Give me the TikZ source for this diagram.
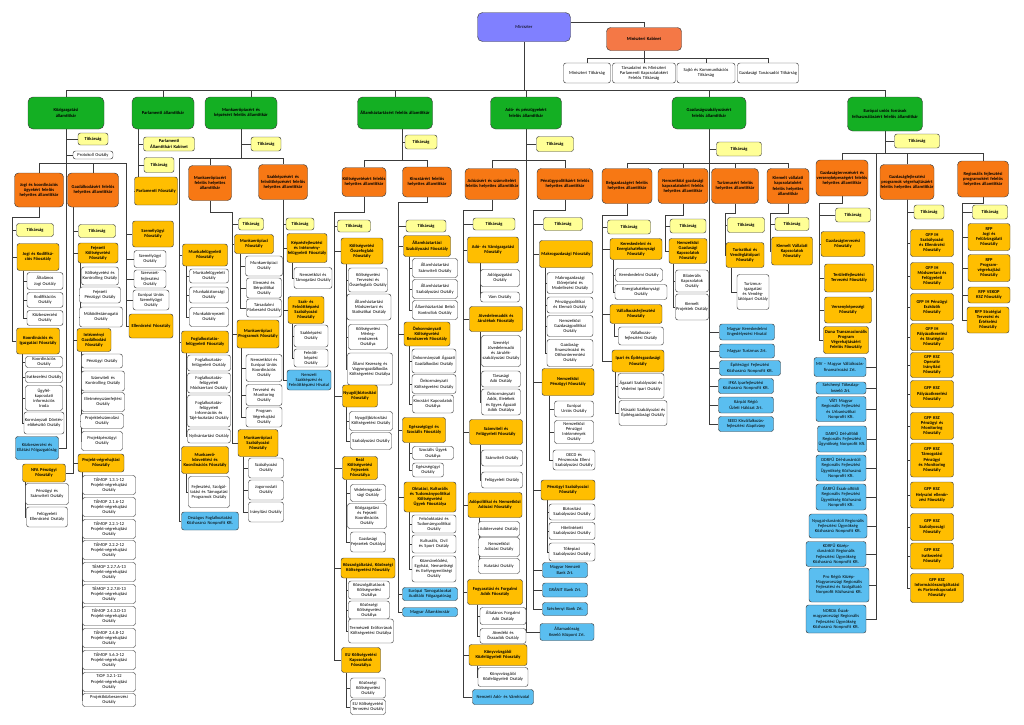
\documentclass[tikz,border=0pt]{standalone}
\usepackage{fontspec}
\setmainfont{Carlito}
\usetikzlibrary{backgrounds}
\definecolor{lnc}{RGB}{60,60,60}
\definecolor{grc}{RGB}{20,175,35}
\definecolor{hac}{RGB}{247,120,20}
\definecolor{foc}{RGB}{255,190,0}
\definecolor{tic}{RGB}{255,255,150}
\definecolor{blc}{RGB}{90,190,240}
\definecolor{puc}{RGB}{128,128,255}
\definecolor{kbc}{RGB}{244,120,70}
\newcommand{\orgfs}{\fontsize{4.5}{5.15}\selectfont\hyphenpenalty=10000 }
% \orgnode{style}{name}{x}{y}{width}{height}{text}
\newcommand{\orgnode}[7]{\node[#1, text width=#5pt, minimum height=#6pt] (#2) at (#3,#4) {#7};}
\tikzset{
  orgbox/.style={draw=lnc, line width=0.45pt, rounded corners=2.5pt, align=center, inner xsep=0.5pt, inner ysep=0.2pt, font=\orgfs},
  wbox/.style={orgbox, fill=white},
  fobox/.style={orgbox, fill=foc, font=\orgfs\bfseries},
  habox/.style={orgbox, fill=hac, font=\orgfs\bfseries, rounded corners=4pt},
  grbox/.style={orgbox, fill=grc, font=\orgfs\bfseries, rounded corners=5pt},
  tibox/.style={orgbox, fill=tic, font=\orgfs\bfseries},
  blbox/.style={orgbox, fill=blc},
  pubox/.style={orgbox, fill=puc, rounded corners=5pt},
  kbbox/.style={orgbox, fill=kbc, font=\orgfs\bfseries, rounded corners=4pt},
  conn/.style={draw=lnc, line width=0.6pt},
}
\begin{document}
\begin{tikzpicture}[x=1pt, y=-1pt]
\useasboundingbox (0,0) rectangle (1024,724);
% felso szint
\orgnode{pubox}{min}{524}{27}{92}{29}{Miniszter}
\orgnode{kbbox}{kab}{644}{39}{74}{23}{Miniszteri Kabinet}
\orgnode{wbox}{mt}{587}{73}{46}{20}{Miniszteri Titkárság}
\orgnode{wbox}{tt}{644}{73}{62}{20}{Társadalmi és Miniszteri Parlamenti Kapcsolatokért Felelős Titkárság}
\orgnode{wbox}{st}{706}{73}{57}{20}{Sajtó és Kommunikációs Titkárság}
\orgnode{wbox}{gt}{768}{73}{60}{20}{Gazdasági Tanácsadói Titkárság}
\coordinate (kbb) at (644,58);
\coordinate (tb) at (0,90);
% allamtitkarok
\orgnode{grbox}{g1}{66}{113}{75}{32}{Közigazgatási\\államtitkár}
\orgnode{grbox}{g2}{163}{113}{61}{32}{Parlamenti államtitkár}
\orgnode{grbox}{g3}{241}{113}{71}{32}{Munkaerőpiacért és képzésért felelős államtitkár}
\orgnode{grbox}{g4}{395}{113}{74}{32}{Államháztartásért felelős államtitkár}
\orgnode{grbox}{g5}{526}{113}{70}{32}{Adó- és pénzügyekért felelős államtitkár}
\orgnode{grbox}{g6}{709}{113}{73}{32}{Gazdaságszabályozásért felelős államtitkár}
\orgnode{grbox}{g7}{885}{114}{74}{34}{Európai uniós források felhasználásáért felelős államtitkár}
% kozigazgatasi
\orgnode{tibox}{t1}{93}{139}{29}{12}{Titkárság}
\orgnode{wbox}{po}{93}{155}{39}{8}{Protokoll Osztály}
\orgnode{habox}{jh}{39}{190}{48}{34}{Jogi és koordinációs ügyekért felelős helyettes államtitkár}
\orgnode{habox}{gh}{93}{190}{50}{34}{Gazdálkodásért felelős helyettes államtitkár}
\orgnode{tibox}{t2}{35}{230}{36}{13}{Titkárság}
\orgnode{fobox}{jkf}{38}{257}{41}{27}{Jogi és Kodifiká-\\ciós Főosztály}
\orgnode{wbox}{ajo}{45}{281}{35}{17}{Általános Jogi Osztály}
\orgnode{wbox}{kod}{45}{300}{35}{15}{Kodifikációs Osztály}
\orgnode{wbox}{kbo}{45}{318}{35}{15}{Közbeszerzési Osztály}
\orgnode{fobox}{kif}{38}{341}{42}{26}{Koordinációs és Igazgatási Főosztály}
\orgnode{wbox}{koo}{44}{362}{36}{11}{Koordinációs Osztály}
\orgnode{wbox}{iro}{44}{377}{36}{11}{Iratkezelési Osztály}
\orgnode{wbox}{ufk}{44}{398}{36}{25}{Ügyfél-\\kapcsolati\\információs\\Iroda}
\orgnode{wbox}{kdo}{44}{423}{39}{22}{Kormányzati Döntés-előkészítő Osztály}
\orgnode{blbox}{kef}{37}{448}{42}{23}{Közbeszerzési és Ellátási Főigazgatóság}
\orgnode{fobox}{nfa}{44}{473}{42}{18}{NFA Pénzügyi Főosztály}
\orgnode{wbox}{nfa1}{47}{494}{42}{21}{Pénzügyi és Számviteli Osztály}
\orgnode{wbox}{nfa2}{47}{517}{40}{20}{Felügyeleti Ellenőrzési Osztály}
\orgnode{tibox}{t3}{97}{231}{36}{13}{Titkárság}
\orgnode{fobox}{fkf}{98}{253}{39}{20}{Fejezeti Költségvetési Főosztály}
\orgnode{wbox}{fk1}{100}{276}{36}{18}{Költségvetési és Kontrolling Osztály}
\orgnode{wbox}{fk2}{100}{295}{40}{16}{Fejezeti Pénzügyi Osztály}
\orgnode{wbox}{fk3}{101}{317}{42}{20}{Működéstámogató Osztály}
\orgnode{fobox}{igf}{94}{340}{33}{23}{Intézményi Gazdálkodási Főosztály}
\orgnode{wbox}{ig1}{102}{361}{40}{14}{Pénzügyi Osztály}
\orgnode{wbox}{ig2}{103}{381}{42}{20}{Számviteli és Kontrolling Osztály}
\orgnode{wbox}{ig3}{103}{402}{42}{19}{Illetményszámfejtési Osztály}
\orgnode{wbox}{ig4}{102}{421}{42}{15}{Projektelszámolási Osztály}
\orgnode{wbox}{ig5}{102}{441}{40}{19}{Projektpénzügyi Osztály}
\orgnode{fobox}{pvf}{101}{463}{45}{18}{Projekt-végrehajtási Főosztály}
\foreach \nm/\yy/\pr in {pv1/485/TÁMOP 1.3.1-12, pv2/507/TÁMOP 2.1.6-12, pv3/529/TÁMOP 2.2.1-12, pv4/550/TÁMOP 2.2.2-12, pv5/572/TÁMOP 2.2.7.A-13, pv6/594/TÁMOP 2.2.7.B-13, pv7/616/TÁMOP 2.4.3.D-13, pv8/638/TÁMOP 2.4.8-12, pv9/660/TÁMOP 5.6.3-12, pv10/682/TIOP 3.2.1-12}
  {\orgnode{wbox}{\nm}{109}{\yy}{52}{19}{\pr\\Projekt-végrehajtási\\Osztály}}
\orgnode{wbox}{pv11}{109}{700}{52}{13}{Projektközbeszerzési Osztály}
\orgnode{fobox}{szf}{153}{234}{40}{26}{Személyügyi Főosztály}
\orgnode{wbox}{sz1}{150}{259}{31}{17}{Személyügyi Osztály}
\orgnode{wbox}{sz2}{150}{279}{31}{18}{Szervezet-\\fejlesztési\\Osztály}
\orgnode{wbox}{sz3}{151}{300}{35}{20}{Európai Uniós Személyügyi Osztály}
\orgnode{fobox}{ell}{151}{326}{43}{24}{Ellenőrzési Főosztály}
% parlamenti
\orgnode{tibox}{pk}{169}{144}{50}{14}{Parlamenti Államtitkári Kabinet}
\orgnode{tibox}{t4}{159}{165}{29}{15}{Titkárság}
\orgnode{fobox}{pf}{156}{191}{42}{28}{Parlamenti Főosztály}
% munkaeropiac
\orgnode{tibox}{t5}{266}{144}{29}{14}{Titkárság}
\orgnode{habox}{mh}{210}{183}{42}{35}{Munkaerőpiacért felelős helyettes államtitkár}
\orgnode{habox}{sh}{283}{182}{48}{35}{Szakképzésért és felnőttképzésért felelős helyettes államtitkár}
\orgnode{fobox}{mff}{205}{255}{44}{22}{Munkafelügyeleti Főosztály}
\orgnode{wbox}{mf1}{209}{276}{38}{14}{Munkafelügyeleti Osztály}
\orgnode{wbox}{mf2}{209}{295}{38}{16}{Munkabiztonsági Osztály}
\orgnode{wbox}{mf3}{209}{317}{38}{19}{Munkakörnyezeti Osztály}
\orgnode{fobox}{fff}{205}{342}{46}{22}{Foglalkoztatás-felügyeleti Főosztály}
\orgnode{wbox}{ff1}{209}{363}{42}{16}{Foglalkoztatás-felügyeleti Osztály}
\orgnode{wbox}{ff2}{209}{383}{42}{20}{Foglalkoztatás-felügyeleti Módszertani Osztály}
\orgnode{wbox}{ff3}{209}{411}{42}{32}{Foglalkoztatás-felügyeleti Információs és Tájé-koztatási Osztály}
\orgnode{wbox}{ff4}{209}{436}{42}{14}{Nyilvántartási Osztály}
\orgnode{fobox}{mkf}{205}{460}{46}{27}{Munkaerő-közvetítési és Koordinációs Főosztály}
\orgnode{wbox}{mk1}{209}{492}{40}{31}{Fejlesztési, Szolgál-tatási és Támogatási Programok Osztály}
\orgnode{blbox}{ofk}{210}{521}{56}{18}{Országos Foglalkoztatási Közhasznú Nonprofit Kft.}
\orgnode{tibox}{t6}{251}{224}{24}{12}{Titkárság}
\orgnode{fobox}{mpf}{254}{244}{38}{19}{Munkaerőpiaci Főosztály}
\orgnode{wbox}{mp1}{264}{266}{36}{20}{Munkaerőpiaci Osztály}
\orgnode{wbox}{mp2}{264}{288}{34}{20}{Elemzési és Bérpolitikai Osztály}
\orgnode{wbox}{mp3}{264}{308}{34}{18}{Társadalmi Párbeszéd Osztály}
\orgnode{fobox}{mpp}{258}{334}{41}{28}{Munkaerőpiaci Programok Főosztály}
\orgnode{wbox}{pp1}{264}{368}{35}{27}{Nemzetközi és Európai Uniós Koordinációs Osztály}
\orgnode{wbox}{pp2}{264}{395}{35}{21}{Tervezési és Monitoring Osztály}
\orgnode{wbox}{pp3}{264}{417}{35}{20}{Program Végrehajtási Osztály}
\orgnode{fobox}{msz}{258}{443}{39}{27}{Munkaerőpiaci Szabályozási Főosztály}
\orgnode{wbox}{ms1}{266}{468}{34}{20}{Szabályozási Osztály}
\orgnode{wbox}{ms2}{266}{490}{34}{20}{Jogorvoslati Osztály}
\orgnode{wbox}{ms3}{266}{512}{34}{20}{Irányítási Osztály}
\orgnode{tibox}{t7}{300}{224}{27}{12}{Titkárság}
\orgnode{fobox}{kif2}{307}{248}{39}{29}{Képzésfejlesztési és Intézmény-felügyeleti Főosztály}
\orgnode{wbox}{ki1}{313}{278}{37}{21}{Nemzetközi és Támogatási Osztály}
\orgnode{fobox}{szf2}{306}{310}{35}{27}{Szak- és Felnőttképzési Szabályozási Főosztály}
\orgnode{wbox}{sk1}{311}{336}{33}{22}{Szakképzési Osztály}
\orgnode{wbox}{sk2}{311}{358}{33}{18}{Felnőtt-\\képzési\\Osztály}
\orgnode{blbox}{nszh}{309}{380}{43}{20}{Nemzeti Szakképzési és Felnőttképzési Hivatal}
% allamhaztartas
\orgnode{tibox}{t8}{421}{142}{31}{14}{Titkárság}
\orgnode{habox}{kh}{364}{182}{43}{29}{Költségvetésért felelős helyettes államtitkár}
\orgnode{habox}{kih}{427}{182}{48}{30}{Kincstárért felelős helyettes államtitkár}
\orgnode{tibox}{t9}{354}{226}{32}{12}{Titkárság}
\orgnode{fobox}{kof}{362}{251}{41}{26}{Költségvetési Összefoglaló Főosztály}
\orgnode{wbox}{ko1}{368}{280}{38}{24}{Költségvetési Tervezési és Összefoglaló Osztály}
\orgnode{wbox}{ko2}{369}{307}{43}{26}{Államháztartási Módszertani és Statisztikai Osztály}
\orgnode{wbox}{ko3}{368}{337}{38}{25}{Költségvetési Mérleg-\\rendszerek\\Osztálya}
\orgnode{wbox}{ko4}{370}{369}{44}{32}{Állami Kezesség és Vagyongazdálkodás Költségvetési Osztálya}
\orgnode{fobox}{nyf}{360}{396}{34}{22}{Nyugdíjbiztosítási Főosztály}
\orgnode{wbox}{ny1}{371}{421}{42}{19}{Nyugdíjbiztosítási Költségvetési Osztály}
\orgnode{wbox}{ny2}{371}{441}{40}{17}{Szabályozási Osztály}
\orgnode{fobox}{rkf}{360}{468}{34}{23}{Reál Költségvetési Fejezetek Főosztálya}
\orgnode{wbox}{rk1}{368}{493}{34}{17}{Védelemgazda-\\sági Osztály}
\orgnode{wbox}{rk2}{367}{516}{38}{25}{Közigazgatási és Fejezeti Koordinációs Osztály}
\orgnode{wbox}{rk3}{368}{542}{34}{20}{Gazdasági Fejezetek Osztálya}
\orgnode{fobox}{ksz}{368}{568}{53}{20}{Közszolgáltatási, Közösségi Költségvetési Főosztály}
\orgnode{wbox}{ks1}{369}{590}{40}{18}{Közszolgáltatások Költségvetési Osztálya}
\orgnode{wbox}{ks2}{369}{610}{40}{18}{Közösségi Költségvetési Osztálya}
\orgnode{wbox}{ks3}{371}{631}{44}{24}{Természeti Erőforrások Költségvetési Osztálya}
\orgnode{fobox}{euf}{361}{660}{38}{25}{EU Költségvetési Kapcsolatok Főosztálya}
\orgnode{wbox}{eu1}{368}{688}{34}{20}{Közösségi Költségvetési Osztály}
\orgnode{wbox}{eu2}{368}{707}{34}{15}{EU Költségvetési Tervezési Osztály}
\orgnode{tibox}{t10}{426}{226}{39}{12}{Titkárság}
\orgnode{fobox}{ahs}{427}{246}{46}{21}{Államháztartási Szabályozási Főosztály}
\orgnode{wbox}{ah1}{435}{268}{44}{19}{Államháztartási Számviteli Osztály}
\orgnode{wbox}{ah2}{435}{289}{44}{19}{Államháztartási Szabályozási Osztály}
\orgnode{wbox}{ah3}{435}{310}{44}{19}{Államháztartási Belső Kontrollok Osztály}
\orgnode{fobox}{onk}{427}{334}{45}{24}{Önkormányzati Költségvetési Rendszerek Főosztály}
\orgnode{wbox}{on1}{434}{361}{43}{24}{Önkormányzati Ágazati Gazdálkodási Osztály}
\orgnode{wbox}{on2}{434}{384}{43}{19}{Önkormányzati Költségvetési Osztály}
\orgnode{wbox}{on3}{433}{404}{40}{18}{Kincstári Kapcsolatok Osztálya}
\orgnode{fobox}{esz}{424}{430}{42}{25}{Egészségügyi és Szociális Főosztály}
\orgnode{wbox}{es1}{433}{453}{40}{13}{Szociális Ügyek Osztálya}
\orgnode{wbox}{es2}{428}{470}{30}{14}{Egészségügyi Osztály}
\orgnode{fobox}{okt}{430}{497}{51}{30}{Oktatási, Kulturális és Tudománypolitikai Költségvetési Ügyek Főosztálya}
\orgnode{wbox}{ok1}{434}{524}{43}{18}{Felsőoktatási és Tudománypolitikai Osztály}
\orgnode{wbox}{ok2}{434}{544}{43}{18}{Kulturális, Civil és Sport Osztály}
\orgnode{wbox}{ok3}{434}{569}{43}{26}{Közművelődési, Egyházi, Nemzetiségi és Esélyegyenlőségi Osztály}
\orgnode{blbox}{eta}{430}{594}{54}{13}{Európai Támogatásokat Auditáló Főigazgatóság}
\orgnode{blbox}{mak}{430}{612}{54}{9}{Magyar Államkincstár}
% ado es penzugyek
\orgnode{tibox}{t11}{555}{144}{36}{15}{Titkárság}
\orgnode{habox}{ah}{492}{184}{53}{31}{Adózásért és számvitelért felelős helyettes államtitkár}
\orgnode{habox}{pp}{565}{184}{55}{31}{Pénzügypolitikáért felelős helyettes államtitkár}
\orgnode{tibox}{t12}{494}{224}{41}{12}{Titkárság}
\orgnode{fobox}{avf}{493}{250}{50}{26}{Adó- és Vámigazgatási Főosztály}
\orgnode{wbox}{av1}{500}{278}{38}{17}{Adóigazgatási Osztály}
\orgnode{wbox}{av2}{500}{297}{38}{10}{Vám Osztály}
\orgnode{fobox}{jjf}{496}{319}{52}{25}{Jövedelemadók és Járulékok Főosztály}
\orgnode{wbox}{jj1}{501}{351}{38}{31}{Személyi Jövedelemadó és Járulék-\\szabályozási Osztály}
\orgnode{wbox}{jj2}{501}{379}{38}{16}{Társasági Adó Osztály}
\orgnode{wbox}{jj3}{501}{402}{38}{26}{Önkormányzati Adók, Illetékek és Egyes Ágazati Adók Osztálya}
\orgnode{fobox}{szff}{496}{432}{52}{25}{Számviteli és Felügyeleti Főosztály}
\orgnode{wbox}{sf1}{502}{458}{40}{16}{Számviteli Osztály}
\orgnode{wbox}{sf2}{502}{480}{40}{16}{Felügyeleti Osztály}
\orgnode{fobox}{apf}{495}{505}{53}{25}{Adópolitikai és Nemzetközi Adózási Főosztály}
\orgnode{wbox}{ap1}{499}{529}{40}{15}{Adótervezési Osztály}
\orgnode{wbox}{ap2}{499}{547}{40}{19}{Nemzetközi Adózási Osztály}
\orgnode{wbox}{ap3}{499}{566}{40}{15}{Kutatási Osztály}
\orgnode{fobox}{ffa}{495}{592}{54}{25}{Fogyasztási és Forgalmi Adók Főosztály}
\orgnode{wbox}{fa1}{503}{616}{45}{17}{Általános Forgalmi Adó Osztály}
\orgnode{wbox}{fa2}{503}{636}{45}{15}{Jövedéki és Összadók Osztály}
\orgnode{fobox}{kkf}{498}{655}{57}{21}{Könyvvizsgálói Közfelügyeleti Főosztály}
\orgnode{wbox}{kk1}{503}{677}{49}{19}{Könyvvizsgálói Közfelügyeleti Osztály}
\orgnode{blbox}{nav}{503}{697}{60}{15}{Nemzeti Adó- és Vámhivatal}
\orgnode{tibox}{t13}{563}{224}{38}{13}{Titkárság}
\orgnode{fobox}{mgf}{566}{254}{52}{27}{Makrogazdasági Főosztály}
\orgnode{wbox}{mg1}{570}{283}{45}{21}{Makrogazdasági Előrejelzési és Modellezési Osztály}
\orgnode{wbox}{mg2}{570}{305}{45}{16}{Pénzügypolitikai és Elemző Osztály}
\orgnode{wbox}{mg3}{570}{326}{45}{21}{Nemzetközi Gazdaságpolitikai Osztály}
\orgnode{wbox}{mg4}{570}{353}{45}{27}{Gazdaság-\\finanszírozási és Otthonteremtési Osztály}
\orgnode{fobox}{npf}{568}{382}{51}{27}{Nemzetközi Pénzügyi Főosztály}
\orgnode{wbox}{np1}{574}{409}{38}{16}{Európai Uniós Osztály}
\orgnode{wbox}{np2}{574}{432}{38}{23}{Nemzetközi Pénzügyi Intézmények Osztály}
\orgnode{wbox}{np3}{574}{460}{41}{20}{OECD és Pénzmosás Elleni Szabályozási Osztály}
\orgnode{fobox}{psz}{568}{490}{53}{20}{Pénzügyi Szabályozási Főosztály}
\orgnode{wbox}{ps1}{572}{512}{45}{16}{Biztosítási Szabályozási Osztály}
\orgnode{wbox}{ps2}{572}{531}{45}{17}{Hitelintézeti Szabályozási Osztály}
\orgnode{wbox}{ps3}{572}{552}{45}{18}{Tőkepiaci Szabályozási Osztály}
\orgnode{blbox}{mnb}{565}{570}{44}{15}{Magyar Nemzeti Bank Zrt.}
\orgnode{blbox}{gra}{565}{590}{44}{14}{GRÁNIT Bank Zrt.}
\orgnode{blbox}{szb}{565}{609}{44}{13}{Széchenyi Bank Zrt.}
\orgnode{blbox}{akk}{567}{632}{53}{17}{Államadósság Kezelő Központ Zrt.}
% gazdasagszabalyozas
\orgnode{tibox}{t14}{739}{149}{44}{14}{Titkárság}
\orgnode{habox}{bh}{627}{186}{49}{35}{Belgazdaságért felelős helyettes államtitkár}
\orgnode{habox}{nh}{683}{186}{49}{35}{Nemzetközi gazdasági kapcsolatokért felelős helyettes államtitkár}
\orgnode{habox}{th}{735}{186}{46}{35}{Turizmusért felelős helyettes államtitkár}
\orgnode{habox}{kvh}{788}{186}{41}{35}{Kiemelt vállalati kapcsolatokért felelős helyettes államtitkár}
\orgnode{tibox}{t15}{629}{227}{42}{14}{Titkárság}
\orgnode{fobox}{kef2}{636}{249}{51}{21}{Kereskedelmi és Energiahatékonysági Főosztály}
\orgnode{wbox}{ke1}{639}{275}{46}{13}{Kereskedelmi Osztály}
\orgnode{wbox}{ke2}{641}{292}{51}{15}{Energiahatékonysági Osztály}
\orgnode{fobox}{vff}{636}{314}{51}{19}{Vállalkozásfejlesztési Főosztály}
\orgnode{wbox}{vf1}{641}{336}{44}{18}{Vállalkozás-\\fejlesztési Osztály}
\orgnode{fobox}{ipf}{638}{361}{51}{22}{Ipari és Építésgazdasági Főosztály}
\orgnode{wbox}{ip1}{641}{386}{45}{25}{Ágazati Szabályozási és Védelmi Ipari Osztály}
\orgnode{wbox}{ip2}{643}{413}{47}{25}{Műszaki Szabályozási és Építésgazdasági Osztály}
\orgnode{tibox}{t16}{688}{226}{35}{14}{Titkárság}
\orgnode{fobox}{ngk}{688}{251}{37}{25}{Nemzetközi Gazdasági Kapcsolatok Főosztály}
\orgnode{wbox}{ng1}{692}{281}{32}{22}{Bilaterális Kapcsolatok Osztály}
\orgnode{wbox}{ng2}{692}{307}{32}{26}{Kiemelt Projektek Osztály}
\orgnode{tibox}{t17}{746}{225}{36}{15}{Titkárság}
\orgnode{fobox}{tvf}{745}{255}{37}{25}{Turisztikai és Vendéglátóipari Főosztály}
\orgnode{wbox}{tv1}{753}{292}{31}{35}{Turizmus-\\igazgatási és Vendég-\\látóipari Osztály}
\orgnode{tibox}{t18}{792}{224}{33}{13}{Titkárság}
\orgnode{fobox}{kvf}{792}{251}{40}{28}{Kiemelt Vállalati Kapcsolatok Főosztály}
\orgnode{blbox}{mkeh}{747}{332}{54}{16}{Magyar Kereskedelmi Engedélyezési Hivatal}
\orgnode{blbox}{mtz}{747}{351}{54}{14}{Magyar Turizmus Zrt.}
\orgnode{blbox}{efk}{750}{368}{60}{15}{Építésügyi Fejlesztési Közhasznú Nonprofit Kft.}
\orgnode{blbox}{ifka}{746}{386}{54}{15}{IFKA Iparfejlesztési Közhasznú Nonprofit Kft.}
\orgnode{blbox}{krh}{746}{405}{54}{16}{Kárpát Régió Üzleti Hálózat Zrt.}
\orgnode{blbox}{seed}{746}{424}{54}{15}{SEED Kisvállalkozás-fejlesztési Alapítvány}
% europai unios forrasok
\orgnode{tibox}{t19}{917}{141}{44}{14}{Titkárság}
\orgnode{habox}{gth}{842}{178}{51}{36}{Gazdaságtervezésért és versenyképességért felelős helyettes államtitkár}
\orgnode{habox}{gfh}{907}{182}{53}{35}{Gazdaságfejlesztési programok végrehajtásáért felelős helyettes államtitkár}
\orgnode{habox}{rfh}{983}{179}{50}{36}{Regionális fejlesztési programokért felelős helyettes államtitkár}
\orgnode{tibox}{t20}{853}{215}{34}{14}{Titkárság}
\orgnode{fobox}{gtf}{843}{244}{43}{25}{Gazdaságtervezési Főosztály}
\orgnode{fobox}{tff}{849}{278}{48}{28}{Területfejlesztési Tervezési Főosztály}
\orgnode{fobox}{vkf}{848}{310}{46}{26}{Versenyképességi Főosztály}
\orgnode{fobox}{duna}{846}{340}{44}{27}{Duna Transznacionális Program Végrehajtásáért Felelős Főosztály}
\orgnode{blbox}{eb1}{840}{367}{51}{19}{MV -- Magyar Vállalkozás-finanszírozási Zrt.}
\orgnode{blbox}{eb2}{841}{388}{49}{12}{Széchenyi Tőkealap-kezelő Zrt.}
\orgnode{blbox}{eb3}{841}{409}{49}{25}{VÁTI Magyar Regionális Fejlesztési és Urbanisztikai Nonprofit Kft.}
\orgnode{blbox}{eb4}{842}{439}{48}{26}{DARFÜ Dél-alföldi Regionális Fejlesztési Ügynökség Nonprofit Kft.}
\orgnode{blbox}{eb5}{841}{468}{49}{26}{DDRFÜ Dél-dunántúli Regionális Fejlesztési Ügynökség Közhasznú Nonprofit Kft.}
\orgnode{blbox}{eb6}{841}{497}{49}{26}{ÉARFÜ Észak-alföldi Regionális Fejlesztési Ügynökség Közhasznú Nonprofit Kft.}
\orgnode{blbox}{eb7}{838}{526}{57}{24}{Nyugat-dunántúli Regionális Fejlesztési Ügynökség Közhasznú Nonprofit Kft.}
\orgnode{blbox}{eb8}{836}{554}{59}{25}{KDRFÜ Közép-dunántúli Regionális Fejlesztési Ügynökség Közhasznú Nonprofit Kft.}
\orgnode{blbox}{eb9}{839}{585}{59}{34}{Pro Régió Közép-Magyarországi Regionális Fejlesztési és Szolgáltató Nonprofit Közhasznú Kft.}
\orgnode{blbox}{eb10}{836}{619}{59}{28}{NORDA Észak-magyarországi Regionális Fejlesztési Ügynökség Közhasznú Nonprofit Kft.}
\orgnode{tibox}{t21}{929}{212}{29}{14}{Titkárság}
\foreach \nm/\yy/\hh/\txt in {gf1/243/27/{GFP IH\\Szabályozási\\és Ellenőrzési\\Főosztály}, gf2/276/27/{GFP IH\\Módszertani és\\Felügyeleti\\Főosztály}, gf3/307/27/{GFP IH Pénzügyi\\Eszközök\\Főosztály}, gf4/337/27/{GFP IH\\Pályázatkezelési\\és Stratégiai\\Főosztály}, gf5/365/25/{GFP KSZ\\Operatív\\Irányítási\\Főosztály}, gf6/394/27/{GFP KSZ\\Pályázatkezelési\\Főosztály}, gf7/426/27/{GFP KSZ\\Pénzügyi és\\Monitoring\\Főosztály}, gf8/460/34/{GFP KSZ\\Támogatási\\Pénzügyi\\és Monitoring\\Főosztály}, gf9/495/26/{GFP KSZ\\Helyszíni ellenőr-\\zési Főosztály}, gf10/527/27/{GFP KSZ\\Szabályossági\\Főosztály}, gf11/556/26/{GFP KSZ\\Iratkezelési\\Főosztály}}
  {\orgnode{fobox}{\nm}{932}{\yy}{42}{\hh}{\txt}}
\orgnode{fobox}{gf12}{937}{588}{52}{29}{GFP KSZ\\Információsszolgáltatási\\és Partnerkapcsolati\\Főosztály}
\orgnode{tibox}{t22}{990}{212}{34}{14}{Titkárság}
\orgnode{fobox}{rf1}{989}{237}{41}{27}{RFP\\Jogi és\\Felülvizsgálati\\Főosztály}
\orgnode{fobox}{rf2}{989}{268}{41}{27}{RFP\\Program-\\végrehajtási\\Főosztály}
\orgnode{fobox}{rf3}{989}{295}{41}{16}{RFP VEKOP\\KSZ Főosztály}
\orgnode{fobox}{rf4}{988}{320}{41}{26}{RFP Stratégiai\\Tervezési és\\Értékelési\\Főosztály}
% buszpontok
\coordinate (jb) at (12,217);
\coordinate (b1r) at (126,163);
\coordinate (mbl) at (179,158);
\coordinate (mhb) at (232,212);
\coordinate (ab) at (402,160);
\coordinate (khb) at (334,212);
\coordinate (kib) at (398,202);
\coordinate (pbus) at (527,160);
\coordinate (ahb) at (463,210);
\coordinate (ppb) at (533,210);
\coordinate (gsbus) at (709,163);
\coordinate (bhb) at (602,215);
\coordinate (nhb) at (665,215);
\coordinate (thb) at (725,213);
\coordinate (kvb) at (770,213);
\coordinate (ebus) at (885,153);
\coordinate (ebv) at (876,153);
\coordinate (gtb) at (819,203);
\coordinate (rfb) at (962,203);
\begin{pgfonlayer}{background}
\draw[conn] ([yshift=5pt]min.east) -| (kab.north);
\draw[conn] (kab.south) -- (kbb);
\foreach \c in {mt,tt,st,gt} {\draw[conn] (kbb) -| (\c.north);}
\draw[conn] (min.south) -- (min.south |- tb);
\draw[conn] (g1.north |- tb) -- (g7.north |- tb);
\foreach \g in {g1,g2,g4,g5,g6,g7} {\draw[conn] (\g.north) -- (\g.north |- tb);}
\draw[conn] ([xshift=10pt]g3.north) -- ([xshift=10pt]g3.north |- tb);
% kozigazgatasi
\draw[conn] (g1.south) |- (kef.east);
\foreach \c in {t1,po} {\draw[conn] (\c.west -| g1.south) -- (\c.west);}
\draw[conn] (jh.north) |- (b1r);
\draw[conn] (gh.north) -- (gh.north |- b1r);
\foreach \c in {szf,sz1,sz2,sz3,ell} {\draw[conn] (b1r) |- (\c.west);}
\draw[conn] (jh.south) |- (jb);
\foreach \c in {t2,jkf,kif} {\draw[conn] (jb) |- (\c.west);}
\foreach \c in {ajo,kod,kbo} {\draw[conn] ([xshift=-15pt]jkf.south) |- (\c.west);}
\foreach \c in {koo,iro,ufk,kdo} {\draw[conn] ([xshift=-16pt]kif.south) |- (\c.west);}
\foreach \c in {nfa1,nfa2} {\draw[conn] ([xshift=-19pt]nfa.south) |- (\c.west);}
\foreach \c in {t3,fkf,igf,pvf} {\draw[conn] ([xshift=-20pt]gh.south) |- (\c.west);}
\draw[conn] ([xshift=-20pt]gh.south) |- (nfa.east);
\foreach \c in {fk1,fk2,fk3} {\draw[conn] ([xshift=-18pt]fkf.south) |- (\c.west);}
\foreach \c in {ig1,ig2,ig3,ig4,ig5} {\draw[conn] ([xshift=-13pt]igf.south) |- (\c.west);}
\foreach \c in {pv1,pv2,pv3,pv4,pv5,pv6,pv7,pv8,pv9,pv10,pv11} {\draw[conn] ([xshift=-19pt]pvf.south) |- (\c.west);}
% parlamenti
\draw[conn] ([xshift=-25pt]g2.south) |- (pf.west);
\foreach \c in {pk,t4} {\draw[conn] ([xshift=-25pt]g2.south) |- (\c.west);}
% munkaeropiac
\draw[conn] (t5.west -| g3.south) -- (t5.west);
\draw[conn] (g3.south) -- (g3.south |- mbl);
\draw[conn] (mbl) -| (sh.north);
\draw[conn] (mh.north) -- (mh.north |- mbl);
\foreach \c in {mff,fff,mkf,ofk} {\draw[conn] (mbl) |- (\c.west);}
\foreach \c in {mf1,mf2,mf3} {\draw[conn] ([xshift=-19pt]mff.south) |- (\c.west);}
\foreach \c in {ff1,ff2,ff3,ff4} {\draw[conn] ([xshift=-19pt]fff.south) |- (\c.west);}
\draw[conn] ([xshift=-19pt]mkf.south) |- (mk1.west);
\draw[conn] (mh.south) |- (mhb);
\foreach \c in {t6,mpf,mpp,msz} {\draw[conn] (mhb) |- (\c.west);}
\foreach \c in {mp1,mp2,mp3} {\draw[conn] ([xshift=-14pt]mpf.south) |- (\c.west);}
\foreach \c in {pp1,pp2,pp3} {\draw[conn] ([xshift=-17pt]mpp.south) |- (\c.west);}
\foreach \c in {ms1,ms2,ms3} {\draw[conn] ([xshift=-15pt]msz.south) |- (\c.west);}
\foreach \c in {t7,kif2,szf2,nszh} {\draw[conn] (sh.south) |- (\c.west);}
\draw[conn] ([xshift=-15pt]kif2.south) |- (ki1.west);
\foreach \c in {sk1,sk2} {\draw[conn] ([xshift=-14pt]szf2.south) |- (\c.west);}
% allamhaztartas
\draw[conn] ([xshift=7pt]g4.south) -- (ab);
\draw[conn] (t8.west -| ab) -- (t8.west);
\draw[conn] (kh.north) -- (kh.north |- ab) -| (kih.north);
\draw[conn] (kh.south) |- (khb);
\foreach \c in {t9,kof,nyf,rkf,ksz,euf} {\draw[conn] (khb) |- (\c.west);}
\foreach \c in {ko1,ko2,ko3,ko4} {\draw[conn] ([xshift=-16pt]kof.south) |- (\c.west);}
\foreach \c in {ny1,ny2} {\draw[conn] ([xshift=-14pt]nyf.south) |- (\c.west);}
\foreach \c in {rk1,rk2,rk3} {\draw[conn] ([xshift=-14pt]rkf.south) |- (\c.west);}
\foreach \c in {ks1,ks2,ks3} {\draw[conn] ([xshift=-22pt]ksz.south) |- (\c.west);}
\foreach \c in {eu1,eu2} {\draw[conn] ([xshift=-15pt]euf.south) |- (\c.west);}
\draw[conn] (kih.south) |- (kib);
\foreach \c in {t10,ahs,onk,esz,okt,eta,mak} {\draw[conn] (kib) |- (\c.west);}
\foreach \c in {ah1,ah2,ah3} {\draw[conn] ([xshift=-18pt]ahs.south) |- (\c.west);}
\foreach \c in {on1,on2,on3} {\draw[conn] ([xshift=-18pt]onk.south) |- (\c.west);}
\foreach \c in {es1,es2} {\draw[conn] ([xshift=-15pt]esz.south) |- (\c.west);}
\foreach \c in {ok1,ok2,ok3} {\draw[conn] ([xshift=-21pt]okt.south) |- (\c.west);}
% ado es penzugyek
\draw[conn] (g5.south) |- (akk.west);
\draw[conn] (t11.west -| g5.south) -- (t11.west);
\draw[conn] (ah.north) -- (ah.north |- pbus) -| (pp.north);
\draw[conn] (ah.south) |- (ahb);
\foreach \c in {t12,avf,jjf,szff,apf,ffa,kkf,nav} {\draw[conn] (ahb) |- (\c.west);}
\foreach \c in {av1,av2} {\draw[conn] ([xshift=-13pt]avf.south) |- (\c.west);}
\foreach \c in {jj1,jj2,jj3} {\draw[conn] ([xshift=-16pt]jjf.south) |- (\c.west);}
\foreach \c in {sf1,sf2} {\draw[conn] ([xshift=-16pt]szff.south) |- (\c.west);}
\foreach \c in {ap1,ap2,ap3} {\draw[conn] ([xshift=-16pt]apf.south) |- (\c.west);}
\foreach \c in {fa1,fa2} {\draw[conn] ([xshift=-18pt]ffa.south) |- (\c.west);}
\draw[conn] ([xshift=-21pt]kkf.south) |- (kk1.west);
\draw[conn] (pp.south) |- (ppb);
\foreach \c in {t13,mgf,npf,psz,mnb,gra,szb} {\draw[conn] (ppb) |- (\c.west);}
\foreach \c in {mg1,mg2,mg3,mg4} {\draw[conn] ([xshift=-21pt]mgf.south) |- (\c.west);}
\foreach \c in {np1,np2,np3} {\draw[conn] ([xshift=-19pt]npf.south) |- (\c.west);}
\foreach \c in {ps1,ps2,ps3} {\draw[conn] ([xshift=-21pt]psz.south) |- (\c.west);}
% gazdasagszabalyozas
\draw[conn] (g6.south) |- (seed.west);
\foreach \c in {t14,mkeh,mtz,efk,ifka,krh} {\draw[conn] (\c.west -| g6.south) -- (\c.west);}
\draw[conn] (bh.north) -- (bh.north |- gsbus) -| (kvh.north);
\foreach \c in {nh,th} {\draw[conn] (\c.north) -- (\c.north |- gsbus);}
\draw[conn] (bh.south) |- (bhb);
\foreach \c in {t15,kef2,vff,ipf} {\draw[conn] (bhb) |- (\c.west);}
\foreach \c in {ke1,ke2} {\draw[conn] ([xshift=-23pt]kef2.south) |- (\c.west);}
\draw[conn] ([xshift=-22pt]vff.south) |- (vf1.west);
\foreach \c in {ip1,ip2} {\draw[conn] ([xshift=-23pt]ipf.south) |- (\c.west);}
\draw[conn] (nh.south) |- (nhb);
\foreach \c in {t16,ngk} {\draw[conn] (nhb) |- (\c.west);}
\foreach \c in {ng1,ng2} {\draw[conn] ([xshift=-15pt]ngk.south) |- (\c.west);}
\draw[conn] (th.south) |- (thb);
\foreach \c in {t17,tvf} {\draw[conn] (thb) |- (\c.west);}
\draw[conn] ([xshift=-14pt]tvf.south) |- (tv1.west);
\draw[conn] (kvh.south) |- (kvb);
\foreach \c in {t18,kvf} {\draw[conn] (kvb) |- (\c.west);}
% europai unios forrasok
\draw[conn] (g7.south) -- (ebus);
\draw[conn] (t19.west -| g7.south) -- (t19.west);
\draw[conn] (gth.north) -- (gth.north |- ebus) -| (rfh.north);
\draw[conn] (gfh.north) -- (gfh.north |- ebus);
\foreach \c in {eb1,eb2,eb3,eb4,eb5,eb6,eb7,eb8,eb9,eb10} {\draw[conn] (ebv) |- (\c.east);}
\draw[conn] (gth.south) |- (gtb);
\foreach \c in {t20,gtf,tff,vkf,duna} {\draw[conn] (gtb) |- (\c.west);}
\foreach \c in {t21,gf1,gf2,gf3,gf4,gf5,gf6,gf7,gf8,gf9,gf10,gf11,gf12} {\draw[conn] (gfh.south) |- (\c.west);}
\draw[conn] (rfh.south) |- (rfb);
\foreach \c in {t22,rf1,rf2,rf3,rf4} {\draw[conn] (rfb) |- (\c.west);}
\end{pgfonlayer}
\end{tikzpicture}
\end{document}
